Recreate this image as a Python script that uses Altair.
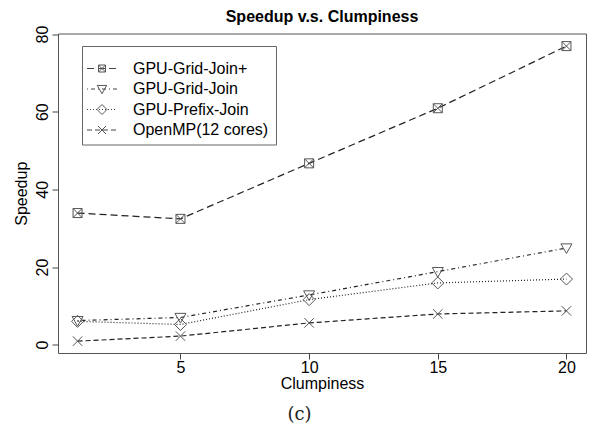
import altair as alt
import pandas as pd

# ---- data ----
clumpiness = [1, 5, 10, 15, 20]
grid_join_plus = [33.9, 32.4, 46.7, 60.9, 76.9]
grid_join = [6.2, 7.0, 12.8, 18.8, 24.9]
prefix_join = [6.0, 5.2, 11.6, 15.9, 16.9]
openmp = [0.9, 2.2, 5.6, 7.9, 8.7]

series_names = ["GPU-Grid-Join+", "GPU-Grid-Join", "GPU-Prefix-Join", "OpenMP(12 cores)"]
series_values = [grid_join_plus, grid_join, prefix_join, openmp]

x_ticks = [5, 10, 15, 20]
y_ticks = [0, 20, 40, 60, 80]

# ---- styles ----
dashes = [[7, 4], [1, 3, 4, 3], [1, 2], [5, 3]]
shapes = [
    "M-1,-1H1V1H-1ZM-1,-1L1,1M-1,1L1,-1",
    "M-1,-0.75L1,-0.75L0,1Z",
    "M0,-1L1,0L0,1L-1,0Z",
    "M-1,-1L1,1M-1,1L1,-1",
]
point_sizes = [81, 121, 144, 90]
legend_sizes = [49, 90, 100, 64]

FONT = "Liberation Sans"
W, H = 528, 319.5

rows = []
for name, vals in zip(series_names, series_values):
    for c, v in zip(clumpiness, vals):
        rows.append({"series": name, "clumpiness": c, "speedup": v})
df = pd.DataFrame(rows)

xscale = alt.Scale(domain=[0.24, 20.76], nice=False, zero=False)
yscale = alt.Scale(domain=[-2.15, 80.15], nice=False, zero=False)

x_enc = alt.X(
    "clumpiness:Q", scale=xscale,
    axis=alt.Axis(values=x_ticks, title="Clumpiness", titleX=W / 2, titleY=35.5,
                  titleBaseline="alphabetic", titleAlign="center", labelPadding=0.5),
)
y_enc = alt.Y(
    "speedup:Q", scale=yscale,
    axis=alt.Axis(values=y_ticks, title="Speedup", labelAngle=270, labelAlign="center",
                  labelBaseline="alphabetic", labelPadding=5,
                  titleAngle=270, titleX=-31.5, titleY=H / 2,
                  titleBaseline="alphabetic", titleAlign="center"),
)

layers = []
for i, name in enumerate(series_names):
    sub = df[df.series == name]
    base = alt.Chart(sub)
    layers.append(
        base.mark_line(color="#222222", strokeWidth=1.2, strokeDash=dashes[i]).encode(x=x_enc, y=y_enc)
    )
    layers.append(
        base.mark_point(shape=shapes[i], size=point_sizes[i], filled=False,
                        color="#555555", strokeWidth=1, opacity=1).encode(x="clumpiness:Q", y="speedup:Q")
    )

# ---- legend (drawn by hand, R style) ----
leg_x0, leg_y0, leg_x1, leg_y1 = 24.5, 13, 218.5, 111.5
legend_rows_y = [35, 55.5, 76, 96.5]
layers.append(
    alt.Chart(pd.DataFrame({"a": [0]})).mark_rect(fill="white", stroke="#666666", strokeWidth=1).encode(
        x=alt.value(leg_x0), x2=alt.value(leg_x1), y=alt.value(leg_y0), y2=alt.value(leg_y1)
    )
)
for i, name in enumerate(series_names):
    one = alt.Chart(pd.DataFrame({"series": [name]}))
    ry = legend_rows_y[i]
    layers.append(
        one.mark_rule(color="#444444", strokeWidth=1, strokeDash=dashes[i]).encode(
            x=alt.value(29), x2=alt.value(59), y=alt.value(ry)
        )
    )
    layers.append(
        one.mark_point(shape=shapes[i], size=legend_sizes[i], filled=False, color="#555555",
                       strokeWidth=1, opacity=1).encode(x=alt.value(44), y=alt.value(ry))
    )
    layers.append(
        one.mark_text(align="left", baseline="middle", font=FONT, fontSize=16, color="black").encode(
            x=alt.value(75), y=alt.value(ry), text="series:N"
        )
    )

# caption
layers.append(
    alt.Chart(pd.DataFrame({"t": ["(c)"]})).mark_text(
        align="center", baseline="middle", font="DejaVu Serif", fontSize=18, color="#222222"
    ).encode(x=alt.value(241.5), y=alt.value(381.5), text="t:N")
)

chart = alt.layer(*layers).properties(
    width=W, height=H,
    title=alt.TitleParams("Speedup v.s. Clumpiness", font=FONT, fontSize=16, fontWeight="bold",
                          anchor="middle", frame="group", offset=0, color="black"),
    autosize=alt.AutoSizeParams(type="none"),
    padding={"left": 50, "top": 25.5, "right": 1, "bottom": 76},
    background="white",
).configure_view(
    stroke="#555555", strokeWidth=1
).configure_axis(
    domain=False, grid=False, tickColor="#444444", tickSize=6, tickWidth=1,
    labelFont=FONT, labelFontSize=16, labelColor="black",
    titleFont=FONT, titleFontSize=16, titleFontWeight="normal", titleColor="black",
)

chart.save("out.html", embed_options={"renderer": "svg", "actions": False})
